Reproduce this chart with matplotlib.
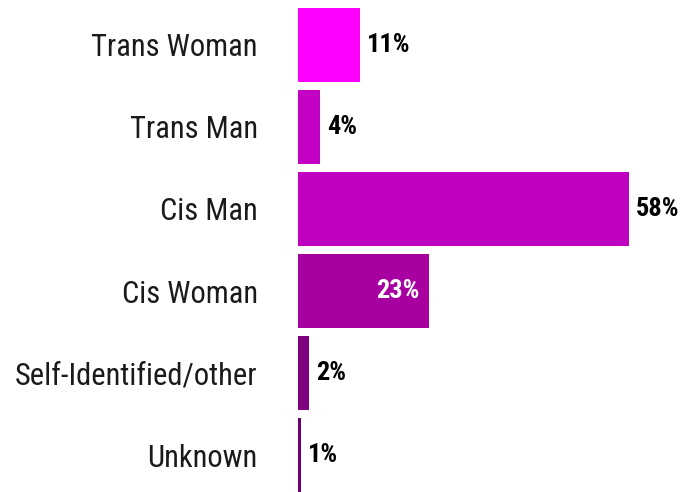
import matplotlib
matplotlib.use("Agg")
import matplotlib.pyplot as plt

categories = ["Trans Woman", "Trans Man", "Cis Man", "Cis Woman", "Self-Identified/other", "Unknown"]
values = [10.9, 3.9, 58.0, 23.0, 1.9, 0.6]
value_labels = ["11%", "4%", "58%", "23%", "2%", "1%"]
colors = ["#FF00FF", "#C400C4", "#C000C0", "#A800A0", "#7F007F", "#6E006E"]

font = ["Roboto Condensed", "DejaVu Sans"]

fig = plt.figure(figsize=(6.97, 4.92), dpi=100)
ax = fig.add_axes([298/697, 0, 1 - 298/697, 1 - 8/492])
y = list(range(len(categories)))
ax.barh(y, values, height=0.9, color=colors)
ax.set_xlim(0, 70)
ax.set_ylim(5.45, -0.45)
for s in ax.spines.values():
    s.set_visible(False)
ax.set_xticks([])
ax.set_yticks(y)
ax.set_yticklabels(categories, fontfamily=font, fontsize=22, color="#1a1a1a")
ax.tick_params(axis="y", length=0, pad=29)

for i, (v, lab) in enumerate(zip(values, value_labels)):
    if lab == "23%":
        ax.text(v - 1.6, i, lab, ha="right", va="center", color="white",
                fontsize=19, fontweight="bold", fontfamily=font)
    else:
        ax.text(v + 1.2, i, lab, ha="left", va="center", color="black",
                fontsize=19, fontweight="bold", fontfamily=font)

fig.savefig("out.png", dpi=100)
